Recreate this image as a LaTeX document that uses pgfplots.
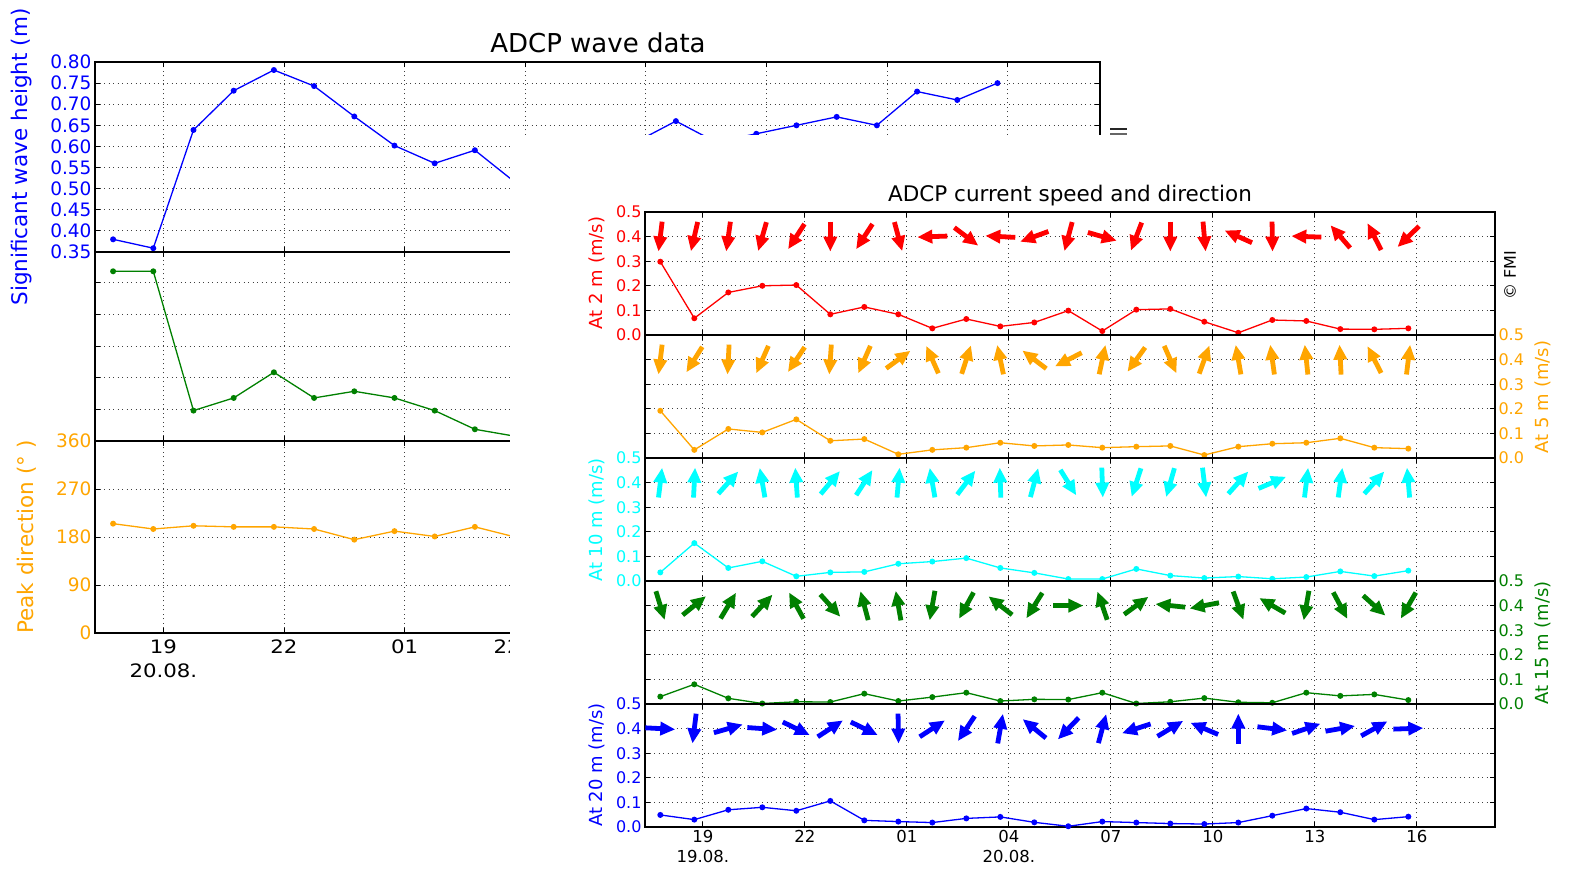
\documentclass[border=0pt]{standalone}
\usepackage{fontspec}
\setmainfont{DejaVu Sans}
\newfontfamily\wide[FakeStretch=1.15]{DejaVu Sans}
\usepackage{pgfplots}
\usepackage{pgfplotstable}
\pgfplotsset{compat=1.18}
\usetikzlibrary{arrows.meta}

\definecolor{mplorange}{rgb}{1,0.647,0}
\definecolor{mplgreen}{rgb}{0,0.5,0}
\definecolor{mplcyan}{rgb}{0,1,1}

\newcommand\bkt{\fontsize{18.5}{24}\selectfont}
\newcommand\bkx{\wide\fontsize{18.5}{24}\selectfont}
\newcommand\bkl{\fontsize{21.5}{24}\selectfont}
\newcommand\frt{\fontsize{16}{19}\selectfont}
\newcommand\frx{\fontsize{16.5}{19.5}\selectfont}
\newcommand\frl{\fontsize{18}{21}\selectfont}

% ---- wave data (back figure)
\pgfplotstableread{
t h
-1.25 0.380
-0.25 0.359
0.75 0.639
1.75 0.732
2.75 0.781
3.75 0.743
4.75 0.671
5.75 0.602
6.75 0.560
7.75 0.591
8.75 0.515
9.75 0.500
10.75 0.550
11.75 0.610
12.75 0.660
13.75 0.610
14.75 0.630
15.75 0.650
16.75 0.670
17.75 0.650
18.75 0.730
19.75 0.710
20.75 0.750
}\waveheight

\pgfplotstableread{
t p
-1.25 5.36
-0.25 5.36
0.75 0.96
1.75 1.36
2.75 2.17
3.75 1.36
4.75 1.57
5.75 1.36
6.75 0.96
7.75 0.37
8.75 0.15
9.75 0.10
}\waveperiod

\pgfplotstableread{
t d
-1.25 205
-0.25 195
0.75 201
1.75 199
2.75 199
3.75 195
4.75 175
5.75 191
6.75 181
7.75 199
8.75 180
9.75 190
}\wavedir

% ---- current speed (v, m/s) and direction (d, degrees, 0 = right, 90 = up)
\pgfplotstableread{
t v d
-1.25 0.298 263
-0.25 0.068 257
0.75 0.173 262
1.75 0.200 254
2.75 0.203 237
3.75 0.084 270
4.75 0.114 237
5.75 0.084 285
6.75 0.027 182
7.75 0.065 323
8.75 0.035 177
9.75 0.051 200
10.75 0.099 255
11.75 0.016 344
12.75 0.103 249
13.75 0.106 270
14.75 0.054 275
15.75 0.009 156
16.75 0.061 271
17.75 0.057 178
18.75 0.024 131
19.75 0.023 117
20.75 0.027 224
}\curA

\pgfplotstableread{
t v d
-1.25 0.192 263
-0.25 0.033 238
0.75 0.118 267
1.75 0.104 246
2.75 0.157 236
3.75 0.070 266
4.75 0.077 246
5.75 0.015 36
6.75 0.033 114
7.75 0.042 72
8.75 0.062 102
9.75 0.049 143
10.75 0.053 207
11.75 0.042 78
12.75 0.046 234
13.75 0.049 294
14.75 0.012 70
15.75 0.046 100
16.75 0.058 98
17.75 0.062 96
18.75 0.080 93
19.75 0.042 117
20.75 0.038 83
}\curB

\pgfplotstableread{
t v d
-1.25 0.035 83
-0.25 0.154 87
0.75 0.053 48
1.75 0.080 100
2.75 0.019 94
3.75 0.035 50
4.75 0.037 57
5.75 0.070 85
6.75 0.079 100
7.75 0.093 53
8.75 0.053 92
9.75 0.033 75
10.75 0.008 302
11.75 0.008 272
12.75 0.049 252
13.75 0.022 254
14.75 0.012 277
15.75 0.018 48
16.75 0.009 23
17.75 0.016 83
18.75 0.039 82
19.75 0.020 48
20.75 0.042 95
}\curC

\pgfplotstableread{
t v d
-1.25 0.030 287
-0.25 0.080 39
0.75 0.023 59
1.75 0.002 47
2.75 0.009 119
3.75 0.008 312
4.75 0.042 105
5.75 0.012 100
6.75 0.028 260
7.75 0.046 241
8.75 0.012 142
9.75 0.019 238
10.75 0.018 0
11.75 0.046 109
12.75 0.002 36
13.75 0.009 174
14.75 0.024 191
15.75 0.007 290
16.75 0.005 150
17.75 0.046 260
18.75 0.033 298
19.75 0.039 318
20.75 0.016 240
}\curD

\pgfplotstableread{
t v d
-1.25 0.049 357
-0.25 0.030 263
0.75 0.070 16
1.75 0.080 356
2.75 0.066 334
3.75 0.106 33
4.75 0.027 334
5.75 0.022 271
6.75 0.018 33
7.75 0.035 236
8.75 0.041 80
9.75 0.019 141
10.75 0.003 226
11.75 0.022 75
12.75 0.018 198
13.75 0.014 31
14.75 0.012 157
15.75 0.018 90
16.75 0.046 353
17.75 0.075 19
18.75 0.060 10
19.75 0.030 29
20.75 0.042 2
}\curE

\pgfplotsset{
  panel/.style={
    scale only axis, xmin=-1.7, xmax=23.3,
    axis line style={line width=1.5pt},
    tick align=inside, major tick length=5pt,
    tick style={black, line width=0.8pt},
    grid=major,
    grid style={black!75, line width=0.8pt, dash pattern=on 1pt off 3.5pt},
    xtick={0,3,...,21}, xticklabels={},
  },
  back/.style={panel, width=1005pt, ticklabel style={font=\bkt}},
  front/.style={panel, width=850pt, height=123pt, ymin=0, ymax=0.5,
    ytick={0,0.1,0.2,0.3,0.4,0.5}, clip=false,
    yticklabel style={font=\frt, /pgf/number format/fixed,
      /pgf/number format/fixed zerofill, /pgf/number format/precision=1,
      /pgf/number format/assume math mode=true}},
  speed/.style={line width=1.3pt, mark=*, mark size=2.3pt},
  arrows/.style={draw=#1, fill=#1,
    quiver={u={0.882*cos(\thisrow{d})}, v={0.122*sin(\thisrow{d})},
      every arrow/.append style={line width=4.8pt, line cap=butt,
        -{Triangle[length=15pt,width=13pt]}}}},
}

\begin{document}
\begin{tikzpicture}[x=1pt,y=1pt]
\path[use as bounding box] (0,0) rectangle (1570,869);

% ================= ADCP wave data =================
\begin{axis}[back, at={(95pt,617pt)}, anchor=south west, height=190pt,
  ymin=0.35, ymax=0.8,
  ytick={0.35,0.4,0.45,0.5,0.55,0.6,0.65,0.7,0.75,0.8},
  yticklabel style={blue, /pgf/number format/fixed,
    /pgf/number format/fixed zerofill, /pgf/number format/precision=2,
    /pgf/number format/assume math mode=true}]
\addplot[blue, speed] table[x=t, y=h] {\waveheight};
\end{axis}

\begin{axis}[back, at={(95pt,428pt)}, anchor=south west, height=189pt,
  ymin=0, ymax=5.97, ytick={1,2,3,4,5}, yticklabels={}]
\addplot[mplgreen, speed] table[x=t, y=p] {\waveperiod};
\end{axis}

\begin{axis}[back, at={(95pt,236pt)}, anchor=south west, height=192pt,
  ymin=0, ymax=360, ytick={0,90,180,270,360},
  yticklabel style={mplorange, /pgf/number format/assume math mode=true},
  xtick={0,3,6}, xticklabels={{19\\20.08.},22,01},
  xticklabel style={font=\bkx, align=center, yshift=-3pt},
  extra x ticks={8.55}, extra x tick labels={22},
  extra x tick style={major tick length=0pt, grid=none}]
\addplot[mplorange, speed] table[x=t, y=d] {\wavedir};
\end{axis}

\node[font=\fontsize{26}{28}\selectfont] at (598,826) {ADCP wave data};
\node[rotate=90, blue, font=\bkl] at (22,712) {Significant wave height (m)};
\node[rotate=90, mplorange, font=\bkl] at (27,332) {Peak direction (° )};

\draw[line width=2pt, black!85] (1110,739.5) -- (1127,739.5);
\draw[line width=2pt, black!60] (1110,734.5) -- (1127,734.5);

% front sheet
\fill[white] (510,0) rectangle (1570,734);

% ================= ADCP current speed and direction =================
\begin{axis}[front, at={(645pt,534pt)}, anchor=south west,
  yticklabel style={red}]
\addplot[red, speed] table[x=t, y=v] {\curA};
\addplot[arrows=red] table[x expr={\thisrow{t}-0.441*cos(\thisrow{d})},
  y expr={0.4-0.061*sin(\thisrow{d})}] {\curA};
\end{axis}

\begin{axis}[front, at={(645pt,411pt)}, anchor=south west,
  yticklabel pos=right, yticklabel style={mplorange}]
\addplot[mplorange, speed] table[x=t, y=v] {\curB};
\addplot[arrows=mplorange] table[x expr={\thisrow{t}-0.441*cos(\thisrow{d})},
  y expr={0.4-0.061*sin(\thisrow{d})}] {\curB};
\end{axis}

\begin{axis}[front, at={(645pt,288pt)}, anchor=south west,
  yticklabel style={mplcyan}]
\addplot[mplcyan, speed] table[x=t, y=v] {\curC};
\addplot[arrows=mplcyan] table[x expr={\thisrow{t}-0.441*cos(\thisrow{d})},
  y expr={0.4-0.061*sin(\thisrow{d})}] {\curC};
\end{axis}

\begin{axis}[front, at={(645pt,165pt)}, anchor=south west,
  yticklabel pos=right, yticklabel style={mplgreen}]
\addplot[mplgreen, speed] table[x=t, y=v] {\curD};
\addplot[arrows=mplgreen] table[x expr={\thisrow{t}-0.441*cos(\thisrow{d})},
  y expr={0.4-0.061*sin(\thisrow{d})}] {\curD};
\end{axis}

\begin{axis}[front, at={(645pt,42pt)}, anchor=south west,
  yticklabel style={blue},
  xticklabels={{19\\19.08.},22,01,{04\\20.08.},07,10,13,16},
  xticklabel style={font=\frx, align=center}]
\addplot[blue, speed] table[x=t, y=v] {\curE};
\addplot[arrows=blue] table[x expr={\thisrow{t}-0.441*cos(\thisrow{d})},
  y expr={0.4-0.061*sin(\thisrow{d})}] {\curE};
\end{axis}

\node[font=\fontsize{21.5}{24}\selectfont] at (1070,673) {ADCP current speed and direction};
\node[rotate=90, red, font=\frl] at (597,596) {At 2 m (m/s)};
\node[rotate=90, mplcyan, font=\frl] at (597,349) {At 10 m (m/s)};
\node[rotate=90, blue, font=\frl] at (597,104) {At 20 m (m/s)};
\node[rotate=90, mplorange, font=\frl] at (1543,472) {At 5 m (m/s)};
\node[rotate=90, mplgreen, font=\frl] at (1543,226) {At 15 m (m/s)};
\node[rotate=90, font=\frt] at (1510,594) {© FMI};
\end{tikzpicture}
\end{document}
